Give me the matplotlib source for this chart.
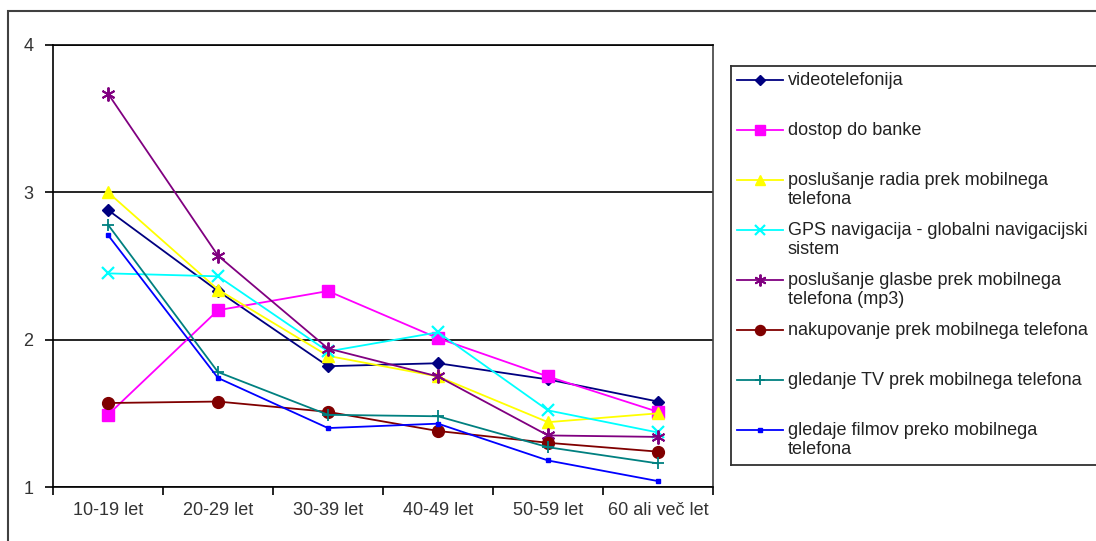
import matplotlib
matplotlib.use("Agg")
import matplotlib.pyplot as plt
from matplotlib.patches import Rectangle

plt.rcParams['font.family'] = ['Liberation Sans', 'DejaVu Sans']

W, H = 1096, 541

categories = ["10-19 let", "20-29 let", "30-39 let", "40-49 let", "50-59 let", "60 ali več let"]

videotelefonija = [2.88, 2.33, 1.82, 1.84, 1.73, 1.58]
dostop_banka = [1.49, 2.20, 2.33, 2.01, 1.75, 1.51]
radio = [3.00, 2.34, 1.89, 1.75, 1.44, 1.50]
gps = [2.45, 2.43, 1.92, 2.05, 1.52, 1.37]
glasba = [3.67, 2.57, 1.94, 1.75, 1.35, 1.34]
nakupovanje = [1.57, 1.58, 1.51, 1.38, 1.30, 1.24]
tv = [2.78, 1.78, 1.49, 1.48, 1.27, 1.16]
filmi = [2.71, 1.74, 1.40, 1.43, 1.18, 1.04]

labels = ["videotelefonija",
          "dostop do banke",
          "poslušanje radia prek mobilnega\ntelefona",
          "GPS navigacija - globalni navigacijski\nsistem",
          "poslušanje glasbe prek mobilnega\ntelefona (mp3)",
          "nakupovanje prek mobilnega telefona",
          "gledanje TV prek mobilnega telefona",
          "gledaje filmov preko mobilnega\ntelefona"]

series = [videotelefonija, dostop_banka, radio, gps, glasba, nakupovanje, tv, filmi]

# colour, marker, marker size, marker edge width
styles = [("#000080", "D", 6.5, 1.0),
          ("#FF00FF", "s", 8, 1.0),
          ("#FFFF00", "^", 8.5, 1.0),
          ("#00FFFF", "x", 8, 1.6),
          ("#800080", (6, 2, 0), 10, 1.4),
          ("#800000", "o", 8.5, 1.0),
          ("#008080", "+", 9, 1.3),
          ("#0000FF", "s", 3, 1.0)]

fig = plt.figure(figsize=(W / 100, H / 100), dpi=100)

# outer chart frame
fig.patches.append(Rectangle((8 / W, -0.1), 1.2, 1 - 11 / H + 0.1, transform=fig.transFigure,
                             fill=False, edgecolor="#404040", linewidth=1.5))

ax = fig.add_axes([53 / W, 1 - 487 / H, (713 - 53) / W, (487 - 45) / H])
x = list(range(len(categories)))
for vals, (c, m, ms, mew) in zip(series, styles):
    ax.plot(x, vals, color=c, linewidth=1.3, marker=m, markersize=ms,
            markerfacecolor=c, markeredgecolor=c, markeredgewidth=mew, clip_on=False)

ax.set_xlim(-0.5, 5.5)
ax.set_ylim(1, 4)
ax.set_yticks([1, 2, 3, 4])
ax.set_xticks(x)
ax.set_xticklabels(categories)
ax.set_xticks([i - 0.5 for i in range(len(categories) + 1)], minor=True)
ax.tick_params(axis="x", which="major", length=0, pad=11, labelsize=13, labelcolor="#333333")
ax.tick_params(axis="x", which="minor", length=6, width=1.2, direction="out")
ax.tick_params(axis="y", length=6, width=1.2, direction="out", pad=8, labelsize=13, labelcolor="#333333")
ax.grid(axis="y", color="black", linewidth=1.2)
for s in ax.spines.values():
    s.set_linewidth(1.2)
ax.spines["right"].set_color("#404040")

# legend box drawn in pixel coordinates
lx0, ly0, ly1 = 731, 66, 465
lax = fig.add_axes([lx0 / W, 1 - ly1 / H, 400 / W, (ly1 - ly0) / H])
lax.set_xlim(0, 400)
lax.set_ylim(ly1 - ly0, 0)
lax.set_xticks([])
lax.set_yticks([])
for s in lax.spines.values():
    s.set_linewidth(1.3)
    s.set_color("#303030")
for i, (lab, (c, m, ms, mew)) in enumerate(zip(labels, styles)):
    yy = 80 + 50 * i - ly0
    lax.plot([6, 52], [yy, yy], color=c, linewidth=1.3)
    lax.plot([29], [yy], color=c, marker=m, markersize=ms * 0.85,
             markerfacecolor=c, markeredgecolor=c, markeredgewidth=mew)
    lax.text(57, yy - 8, lab, fontsize=13, va="top", ha="left", color="#222222", linespacing=1.15)

fig.savefig("out.png", dpi=100)
